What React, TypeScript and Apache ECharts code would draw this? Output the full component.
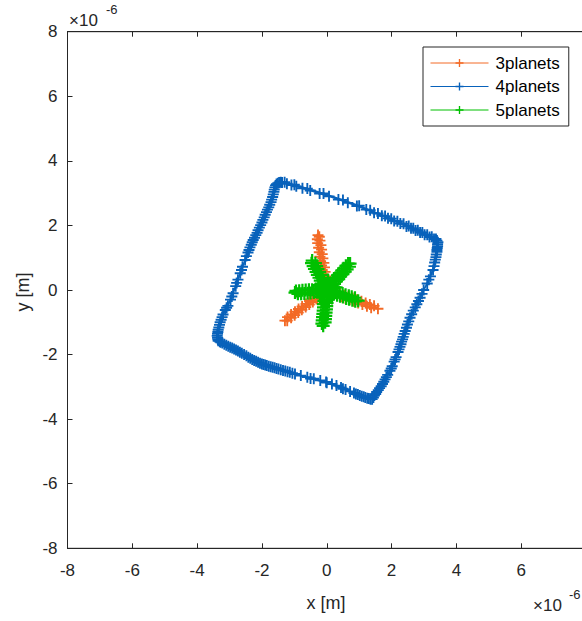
import React, { useEffect, useRef } from "react";
import * as echarts from "echarts";

// Planet trajectories, in units of 1e-6 m, as [x, y] pairs.
const planets3Path: [number, number][] = [
  [0, 0],
  [0.02, 0.15], [-0.01, 0.28], [-0.03, 0.42], [-0.05, 0.56], [-0.07, 0.7], [-0.09, 0.84],
  [-0.12, 0.98], [-0.14, 1.11], [-0.16, 1.25], [-0.18, 1.39], [-0.21, 1.53], [-0.23, 1.65],
  [-0.27, 1.7],
  [-0.29, 1.57], [-0.28, 1.45], [-0.25, 1.31], [-0.23, 1.17], [-0.21, 1.03], [-0.19, 0.89],
  [-0.16, 0.76], [-0.14, 0.62], [-0.12, 0.48], [-0.1, 0.34], [-0.07, 0.2], [-0.05, 0.06],
  [0, 0],
  [-0.09, -0.12], [-0.2, -0.2], [-0.32, -0.28], [-0.43, -0.37], [-0.54, -0.45], [-0.65, -0.53],
  [-0.77, -0.61], [-0.88, -0.7], [-0.99, -0.78], [-1.1, -0.86], [-1.22, -0.95],
  [-1.29, -0.95],
  [-1.21, -0.84], [-1.1, -0.76], [-0.98, -0.67], [-0.87, -0.59], [-0.76, -0.51], [-0.64, -0.43],
  [-0.53, -0.34], [-0.42, -0.26], [-0.31, -0.18], [-0.19, -0.09], [-0.08, -0.01],
  [0, 0],
  [0.15, -0.01], [0.28, -0.06], [0.41, -0.11], [0.54, -0.16], [0.67, -0.2], [0.8, -0.25],
  [0.93, -0.3], [1.07, -0.35], [1.2, -0.4], [1.33, -0.45], [1.46, -0.49],
  [1.58, -0.58],
  [1.37, -0.55], [1.24, -0.5], [1.1, -0.45], [0.97, -0.4], [0.84, -0.35], [0.71, -0.3],
  [0.58, -0.26], [0.45, -0.21], [0.32, -0.16], [0.18, -0.11], [0.05, -0.06],
  [0, 0],
];

const planets4Path: [number, number][] = [
  // first lap: upper edge
  [-1.38, 3.33], [-1.23, 3.29], [-1.09, 3.25], [-0.94, 3.21], [-0.75, 3.15], [-0.51, 3.08],
  [-0.22, 2.99], [0.07, 2.9], [0.36, 2.8], [0.65, 2.7], [0.93, 2.6], [1.22, 2.49],
  [1.46, 2.39], [1.7, 2.3], [1.89, 2.22], [2.08, 2.14], [2.27, 2.06], [2.46, 1.97],
  [2.6, 1.91], [2.74, 1.84], [2.88, 1.78], [3.02, 1.71], [3.17, 1.64], [3.31, 1.58],
  [3.4, 1.53],
  // right edge
  [3.42, 1.42], [3.41, 1.3], [3.4, 1.18], [3.37, 1.02], [3.33, 0.85], [3.28, 0.62],
  [3.2, 0.42], [3.1, 0.2], [2.99, 0.0], [2.88, -0.24], [2.78, -0.44], [2.67, -0.64],
  [2.57, -0.86], [2.49, -1.07], [2.42, -1.27], [2.36, -1.45], [2.31, -1.6], [2.26, -1.76],
  [2.2, -1.92], [2.14, -2.08], [2.08, -2.22], [2.02, -2.36], [1.95, -2.5], [1.88, -2.63],
  [1.8, -2.77], [1.72, -2.91], [1.63, -3.04], [1.54, -3.16], [1.47, -3.27], [1.4, -3.38],
  // lower edge
  [1.3, -3.36], [1.19, -3.33], [1.08, -3.29], [0.96, -3.24], [0.84, -3.19], [0.72, -3.14],
  [0.58, -3.08], [0.44, -3.02], [0.3, -2.96], [0.16, -2.91], [-0.02, -2.85], [-0.2, -2.8],
  [-0.4, -2.75], [-0.6, -2.7], [-0.8, -2.65], [-0.98, -2.6], [-1.14, -2.55], [-1.28, -2.51],
  [-1.42, -2.47], [-1.55, -2.43], [-1.67, -2.39], [-1.79, -2.36], [-1.9, -2.32], [-2.0, -2.29],
  [-2.12, -2.24], [-2.24, -2.18], [-2.36, -2.11], [-2.48, -2.04], [-2.62, -1.96], [-2.74, -1.89],
  [-2.86, -1.83], [-2.98, -1.77], [-3.1, -1.71], [-3.22, -1.64], [-3.3, -1.6], [-3.35, -1.57],
  // left edge
  [-3.37, -1.48], [-3.37, -1.36], [-3.35, -1.23], [-3.31, -1.08], [-3.26, -0.92], [-3.2, -0.76],
  [-3.13, -0.62], [-3.05, -0.49], [-2.97, -0.3], [-2.89, -0.1], [-2.81, 0.12], [-2.74, 0.32],
  [-2.67, 0.52], [-2.6, 0.72], [-2.52, 0.93], [-2.43, 1.16], [-2.37, 1.32], [-2.3, 1.48],
  [-2.23, 1.62], [-2.15, 1.77], [-2.08, 1.93], [-2.0, 2.09], [-1.93, 2.25], [-1.86, 2.41],
  [-1.79, 2.56], [-1.72, 2.72], [-1.67, 2.88], [-1.63, 3.04], [-1.6, 3.18], [-1.55, 3.28],
  [-1.47, 3.33], [-1.38, 3.33],
  // second lap: upper edge
  [-1.3, 3.34], [-1.0, 3.26], [-0.6, 3.14], [-0.1, 2.99], [0.5, 2.79], [1.0, 2.61],
  [1.34, 2.47], [1.58, 2.37], [1.8, 2.29], [1.99, 2.21], [2.18, 2.13], [2.37, 2.05],
  [2.53, 1.98], [2.67, 1.91], [2.81, 1.85], [2.95, 1.78], [3.1, 1.71], [3.24, 1.65],
  [3.37, 1.58],
  // right edge
  [3.43, 1.48], [3.42, 1.36], [3.4, 1.24], [3.38, 1.1], [3.35, 0.94], [3.31, 0.74],
  [3.15, 0.32], [2.94, -0.12], [2.83, -0.34], [2.73, -0.54], [2.62, -0.75], [2.53, -0.97],
  [2.46, -1.17], [2.39, -1.36], [2.34, -1.53], [2.29, -1.68], [2.23, -1.84], [2.11, -2.15],
  [1.99, -2.43], [1.84, -2.7], [1.76, -2.84], [1.68, -2.98], [1.59, -3.1], [1.51, -3.22],
  [1.44, -3.33], [1.35, -3.38],
  // lower edge
  [1.25, -3.35], [1.14, -3.31], [1.02, -3.27], [0.9, -3.22], [0.5, -3.06], [0.0, -2.87],
  [-0.5, -2.74], [-1.06, -2.58], [-1.21, -2.53], [-1.35, -2.49], [-1.49, -2.45], [-1.61, -2.41],
  [-1.73, -2.38], [-1.85, -2.34], [-1.95, -2.31], [-2.06, -2.27], [-2.18, -2.21], [-2.3, -2.15],
  [-2.42, -2.08], [-2.55, -2.0], [-2.68, -1.93], [-2.8, -1.86], [-2.92, -1.8], [-3.04, -1.74],
  [-3.16, -1.68], [-3.27, -1.62], [-3.36, -1.53],
  // left edge
  [-3.38, -1.42], [-3.36, -1.3], [-3.33, -1.16], [-3.29, -1.0], [-3.23, -0.84], [-3.09, -0.55],
  [-2.93, -0.2], [-2.78, 0.22], [-2.63, 0.62], [-2.48, 1.05], [-2.4, 1.24], [-2.33, 1.4],
  [-2.27, 1.55], [-2.19, 1.7], [-2.12, 1.85], [-2.04, 2.01], [-1.97, 2.17], [-1.9, 2.33],
  [-1.83, 2.49], [-1.76, 2.64], [-1.7, 2.8], [-1.65, 2.96], [-1.62, 3.11], [-1.58, 3.24],
  [-1.51, 3.31], [-1.42, 3.34],
];

const planets5Path: [number, number][] = [
  [0, 0],
  [0.0, 0.11], [-0.04, 0.2], [-0.09, 0.29], [-0.13, 0.38], [-0.18, 0.47], [-0.22, 0.56],
  [-0.27, 0.65], [-0.31, 0.74], [-0.35, 0.83], [-0.45, 0.91],
  [-0.47, 0.83], [-0.42, 0.74], [-0.38, 0.65], [-0.33, 0.56], [-0.29, 0.47], [-0.24, 0.38],
  [-0.2, 0.29], [-0.16, 0.2], [-0.11, 0.11], [-0.07, 0.02],
  [0, 0],
  [0.1, 0.04], [0.17, 0.12], [0.24, 0.19], [0.3, 0.27], [0.37, 0.34], [0.43, 0.42],
  [0.5, 0.49], [0.57, 0.57], [0.63, 0.64], [0.7, 0.72], [0.72, 0.82],
  [0.66, 0.82], [0.59, 0.75], [0.52, 0.67], [0.46, 0.6], [0.39, 0.52], [0.33, 0.45],
  [0.26, 0.37], [0.19, 0.3], [0.13, 0.22], [0.06, 0.15], [0.0, 0.07],
  [0, 0],
  [0.11, 0.02], [0.21, -0.02], [0.3, -0.05], [0.39, -0.08], [0.49, -0.11], [0.58, -0.15],
  [0.68, -0.18], [0.77, -0.21], [0.87, -0.24], [0.97, -0.33],
  [0.88, -0.35], [0.79, -0.32], [0.69, -0.29], [0.6, -0.26], [0.5, -0.22], [0.41, -0.19],
  [0.32, -0.16], [0.22, -0.13], [0.13, -0.1], [0.03, -0.06],
  [0, 0],
  [0.04, -0.1], [0.03, -0.2], [0.02, -0.3], [0.01, -0.4], [0.0, -0.5], [-0.01, -0.6],
  [-0.02, -0.7], [-0.03, -0.8], [-0.04, -0.9], [-0.05, -1.0], [-0.11, -1.11],
  [-0.15, -1.04], [-0.14, -0.94], [-0.13, -0.84], [-0.12, -0.74], [-0.11, -0.64], [-0.1, -0.54],
  [-0.1, -0.44], [-0.09, -0.34], [-0.08, -0.24], [-0.07, -0.14], [-0.05, -0.05],
  [0, 0],
  [-0.1, -0.06], [-0.2, -0.07], [-0.3, -0.07], [-0.4, -0.08], [-0.5, -0.09], [-0.59, -0.1],
  [-0.69, -0.11], [-0.79, -0.12], [-0.89, -0.12], [-0.98, -0.08],
  [-0.95, -0.03], [-0.85, -0.02], [-0.75, -0.01], [-0.65, 0.0], [-0.55, 0.01], [-0.45, 0.01],
  [-0.35, 0.02], [-0.25, 0.03], [-0.15, 0.04], [-0.05, 0.05],
  [0, 0],
  // loop around the hub between the arms
  [0.04, 0.3], [0.03, 0.2], [0.19, 0.05], [0.29, 0.08], [0.16, -0.25], [0.11, -0.17],
  [-0.14, -0.14], [-0.21, -0.21], [-0.26, 0.15], [-0.17, 0.1], [0.04, 0.3],
];

const seriesNames = ["3planets", "4planets", "5planets"];
const seriesPaths = [planets3Path, planets4Path, planets5Path];
const seriesColors = ["#f36a26", "#0862bb", "#00c000"];
const markerSizes = [11, 11, 13];

const axisMin = -8;
const axisMax = 8;
const axisStep = 2;
const axisExponent = "-6";

const FONT = "'Liberation Sans', Arial, sans-serif";
const INK = "#262626";
// plus-shaped marker
const PLUS = "path://M8.3,0H11.7V8.3H20V11.7H11.7V20H8.3V11.7H0V8.3H8.3Z";

export default function App() {
  const ref = useRef<HTMLDivElement>(null);

  useEffect(() => {
    const chart = echarts.init(ref.current!, null, { renderer: "svg" });

    const labelStyle = { color: INK, fontSize: 17, fontFamily: FONT };
    const tick = { show: true, inside: true, length: 5, lineStyle: { color: INK } };
    const line = { show: true, onZero: false, lineStyle: { color: INK, width: 1 } };

    chart.setOption({
      animation: false,
      backgroundColor: "#ffffff",
      grid: {
        left: 67.5,
        top: 31.7,
        width: 518.5,
        height: 516.6,
        show: true,
        borderColor: INK,
        borderWidth: 1,
        backgroundColor: "transparent",
      },
      legend: {
        orient: "vertical",
        left: 423,
        top: 47,
        data: seriesNames,
        backgroundColor: "#ffffff",
        borderColor: INK,
        borderWidth: 1,
        padding: [6, 9, 6, 7],
        itemWidth: 58,
        itemHeight: 10,
        itemGap: 3.5,
        lineStyle: { width: 1 },
        textStyle: { color: "#000", fontSize: 17, fontFamily: FONT, lineHeight: 20, padding: [0, 0, 0, 2] },
      },
      xAxis: [
        {
          type: "value",
          min: axisMin,
          max: axisMax,
          interval: axisStep,
          position: "bottom",
          splitLine: { show: false },
          axisLine: line,
          axisTick: tick,
          axisLabel: { ...labelStyle, margin: 14, showMaxLabel: false },
        },
        {
          type: "value",
          min: axisMin,
          max: axisMax,
          interval: axisStep,
          position: "top",
          splitLine: { show: false },
          axisLine: line,
          axisTick: tick,
          axisLabel: { show: false },
        },
      ],
      yAxis: [
        {
          type: "value",
          min: axisMin,
          max: axisMax,
          interval: axisStep,
          position: "left",
          splitLine: { show: false },
          axisLine: line,
          axisTick: tick,
          axisLabel: { ...labelStyle, margin: 10 },
        },
      ],
      series: seriesNames.map((name, i) => ({
        name,
        type: "line",
        xAxisIndex: 0,
        yAxisIndex: 0,
        data: seriesPaths[i],
        symbol: PLUS,
        symbolSize: markerSizes[i],
        showSymbol: true,
        showAllSymbol: true,
        color: seriesColors[i],
        itemStyle: { color: seriesColors[i] },
        lineStyle: { color: seriesColors[i], width: 1.6 },
        emphasis: { disabled: true },
        z: 2 + i,
      })),
      graphic: [
        {
          type: "text",
          x: 23,
          y: 292,
          rotation: Math.PI / 2,
          style: { text: "y [m]", fill: INK, font: `18px ${FONT}`, align: "center", verticalAlign: "middle" },
        },
        {
          type: "text",
          x: 326,
          y: 603,
          style: { text: "x [m]", fill: INK, font: `18px ${FONT}`, align: "center", verticalAlign: "middle" },
        },
        {
          type: "text",
          x: 69,
          y: 20,
          style: { text: "\u00d710", fill: INK, font: `17px ${FONT}`, align: "left", verticalAlign: "middle" },
        },
        {
          type: "text",
          x: 106,
          y: 9,
          style: { text: axisExponent, fill: INK, font: `13px ${FONT}`, align: "left", verticalAlign: "middle" },
        },
        {
          type: "text",
          x: 533,
          y: 605,
          style: { text: "\u00d710", fill: INK, font: `17px ${FONT}`, align: "left", verticalAlign: "middle" },
        },
        {
          type: "text",
          x: 569,
          y: 594,
          style: { text: axisExponent, fill: INK, font: `13px ${FONT}`, align: "left", verticalAlign: "middle" },
        },
      ],
    });

    return () => chart.dispose();
  }, []);

  return (
    <div
      style={{
        position: "fixed",
        left: 0,
        top: 0,
        width: 582,
        height: 621,
        overflow: "hidden",
        background: "#ffffff",
      }}
    >
      <div ref={ref} style={{ width: 640, height: 621 }} />
    </div>
  );
}
